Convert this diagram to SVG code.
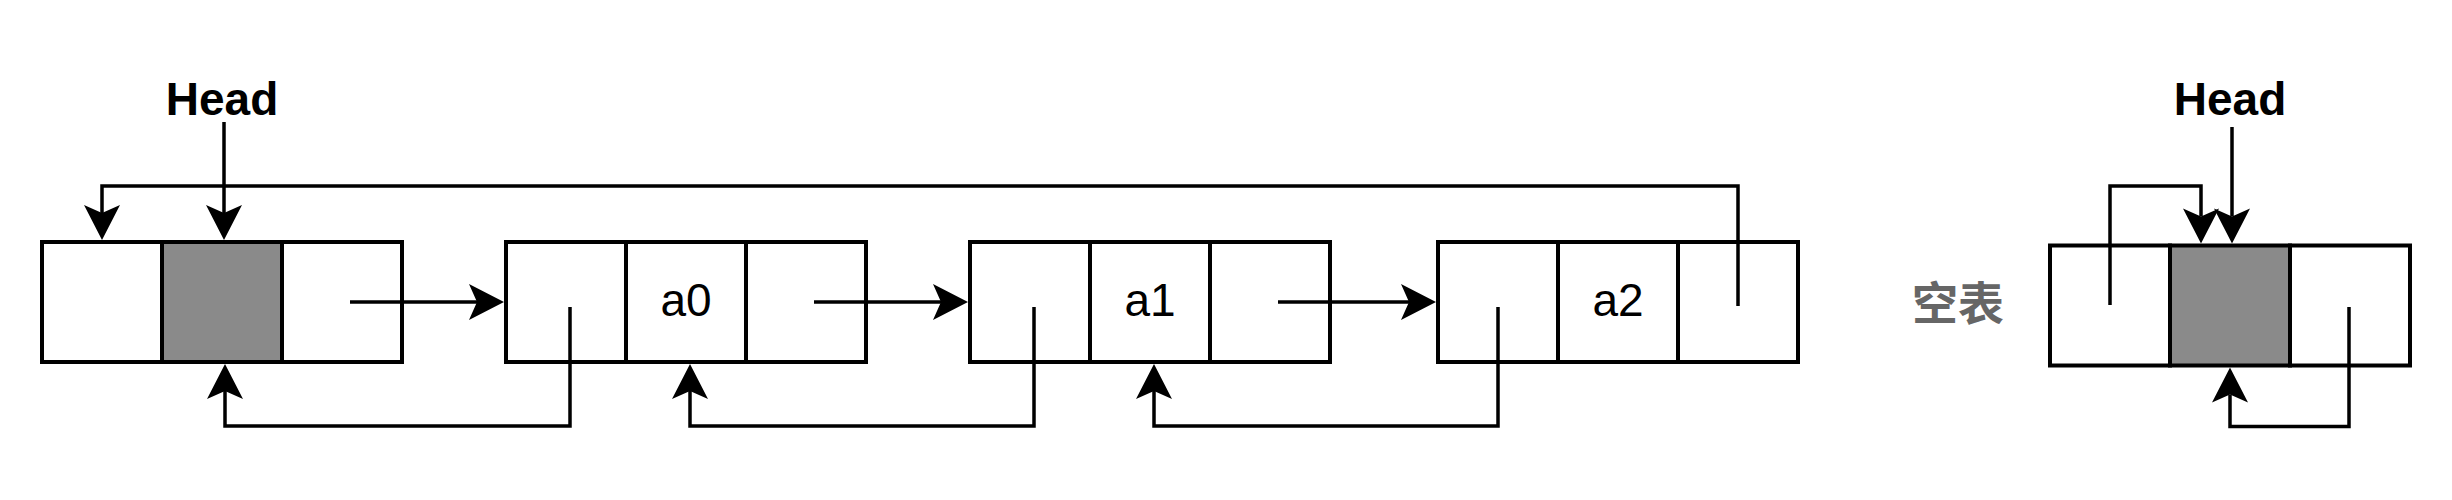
<svg xmlns="http://www.w3.org/2000/svg" width="2452" height="500" viewBox="0 0 2452 500">
  <style>
    .cell { fill: #ffffff; stroke: #000000; stroke-width: 4; }
    .gray { fill: #8a8a8a; stroke: #000000; stroke-width: 4; }
    .conn { fill: none; stroke: #000000; stroke-width: 3.5; marker-end: url(#arrow); }
    .head { font-family: "Liberation Sans", Arial, sans-serif; font-weight: bold; font-size: 46px; fill: #000000; text-anchor: middle; }
    .val { font-family: "Liberation Sans", Arial, sans-serif; font-size: 46px; fill: #000000; text-anchor: middle; }
    .cn { font-family: "Noto Sans CJK SC", "Noto Sans", sans-serif; font-weight: bold; font-size: 46px; fill: #666666; text-anchor: middle; }
  </style>
  <defs>
    <marker id="arrow" markerUnits="userSpaceOnUse" markerWidth="36" markerHeight="36" refX="8" refY="18" orient="auto" overflow="visible">
      <path d="M0,0 L35,18 L0,36 L8,18 Z" fill="#000000"/>
    </marker>
  </defs>
  <rect x="0" y="0" width="2452" height="500" fill="#ffffff"/>

  <g id="head-label-main"><text class="head" x="222" y="115">Head</text></g>
  <g id="head-label-empty"><text class="head" x="2230" y="115">Head</text></g>
  <g id="empty-label"><text class="cn" x="1958" y="320">空表</text></g>

  <g id="head-node">
    <rect class="cell" x="42" y="242" width="120" height="120"/>
    <rect class="gray" x="162" y="242" width="120" height="120"/>
    <rect class="cell" x="282" y="242" width="120" height="120"/>
  </g>
  <g id="node-a0">
    <rect class="cell" x="506" y="242" width="120" height="120"/>
    <rect class="cell" x="626" y="242" width="120" height="120"/>
    <rect class="cell" x="746" y="242" width="120" height="120"/>
    <text class="val" x="686" y="316">a0</text>
  </g>
  <g id="node-a1">
    <rect class="cell" x="970" y="242" width="120" height="120"/>
    <rect class="cell" x="1090" y="242" width="120" height="120"/>
    <rect class="cell" x="1210" y="242" width="120" height="120"/>
    <text class="val" x="1150" y="316">a1</text>
  </g>
  <g id="node-a2">
    <rect class="cell" x="1438" y="242" width="120" height="120"/>
    <rect class="cell" x="1558" y="242" width="120" height="120"/>
    <rect class="cell" x="1678" y="242" width="120" height="120"/>
    <text class="val" x="1618" y="316">a2</text>
  </g>
  <g id="empty-head-node">
    <rect class="cell" x="2050" y="245.5" width="120" height="120"/>
    <rect class="gray" x="2170" y="245.5" width="120" height="120"/>
    <rect class="cell" x="2290" y="245.5" width="120" height="120"/>
  </g>

  <g id="connectors">
    <path class="conn" d="M224,122 V213"/>
    <path class="conn" d="M1738,306 V186 H102 V213"/>
    <path class="conn" d="M350,302 H477"/>
    <path class="conn" d="M814,302 H941"/>
    <path class="conn" d="M1278,302 H1409"/>
    <path class="conn" d="M570,307 V426 H225 V391"/>
    <path class="conn" d="M1034,307 V426 H690 V391"/>
    <path class="conn" d="M1498,307 V426 H1154 V391"/>
    <path class="conn" d="M2232,127 V216.5"/>
    <path class="conn" d="M2110,305 V186 H2201 V216.5"/>
    <path class="conn" d="M2349,307 V426.5 H2230 V394.5"/>
  </g>
</svg>
